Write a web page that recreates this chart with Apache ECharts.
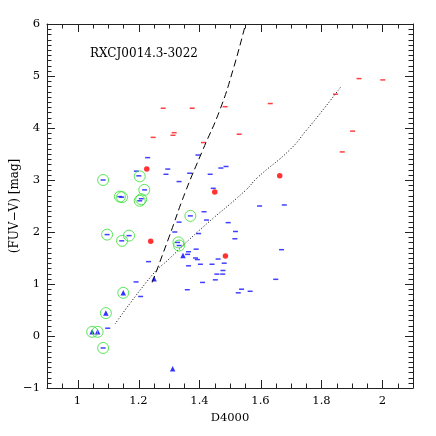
<!DOCTYPE html>
<html>
<head>
<meta charset="utf-8">
<script src="https://cdn.jsdelivr.net/npm/echarts@6/dist/echarts.min.js"></script>
<style>html,body{margin:0;padding:0;background:#fff}#c{width:436px;height:436px}</style>
</head>
<body>
<div id="c"></div>
<script>
// ---- data (D4000, FUV-V) ----
const blueDashes = [
  [1.084,3.00],[1.193,3.17],[1.201,3.08],[1.220,2.81],[1.139,2.68],[1.145,2.67],
  [1.209,2.64],[1.204,2.60],[1.370,2.31],[1.097,1.95],[1.169,1.93],[1.145,1.83],
  [1.328,1.80],[1.333,1.74],[1.084,-0.23],
  [1.230,3.43],[1.395,3.48],[1.296,3.21],[1.290,3.11],[1.368,3.13],[1.435,3.11],
  [1.470,3.23],[1.487,3.26],[1.333,2.97],[1.445,2.84],[1.597,2.50],[1.678,2.52],
  [1.415,2.39],[1.423,2.23],[1.333,2.19],[1.494,2.18],[1.319,2.00],[1.397,1.97],
  [1.518,2.01],[1.516,1.87],[1.669,1.66],[1.389,1.67],[1.364,1.62],[1.361,1.57],
  [1.387,1.50],[1.393,1.47],[1.233,1.43],[1.403,1.38],[1.441,1.38],[1.364,1.35],
  [1.461,1.48],[1.481,1.40],[1.477,1.26],[1.457,1.19],[1.476,1.19],[1.452,1.08],
  [1.192,1.04],[1.410,1.03],[1.650,1.09],[1.360,0.89],[1.538,0.90],[1.566,0.86],
  [1.527,0.83],[1.207,0.76],[1.099,0.15]
];
const redDashes = [
  [1.281,4.38],[1.376,4.38],[1.484,4.41],[1.248,3.82],[1.317,3.91],[1.313,3.86],
  [1.413,3.72],[1.530,3.88],[1.632,4.47],[1.846,4.65],[1.923,4.95],[2.001,4.925],
  [1.902,3.94],[1.868,3.54]
];
const redDots = [[1.227,3.21],[1.450,2.77],[1.663,3.08],[1.240,1.82],[1.485,1.54]];
const blueTriangles = [[1.346,1.55],[1.251,1.10],[1.150,0.83],[1.093,0.44],[1.048,0.08],[1.066,0.08],[1.312,-0.63]];
const greenRings = [
  [1.084,3.00],[1.204,3.07],[1.219,2.81],[1.139,2.68],[1.146,2.67],[1.209,2.63],
  [1.204,2.60],[1.370,2.31],[1.097,1.95],[1.169,1.93],[1.146,1.83],[1.331,1.80],
  [1.333,1.74],[1.150,0.83],[1.093,0.44],[1.048,0.08],[1.066,0.08],[1.084,-0.23]
];
const dashedModel = [[1.245,1.03],[1.300,1.90],[1.353,2.76],[1.411,3.58],[1.467,4.35],[1.510,5.12],[1.551,6.00]];
const dottedModel = [[1.123,0.23],[1.246,1.18],[1.300,1.48],[1.401,2.04],[1.551,2.80],[1.589,3.04],[1.696,3.58],[1.751,3.96],[1.805,4.35],[1.862,4.78]];
// ---- tick values ----
const xMajorTicks = [1,1.2,1.4,1.6,1.8,2];
const xMinorTicks = [0.95,1.05,1.1,1.15,1.25,1.3,1.35,1.45,1.5,1.55,1.65,1.7,1.75,1.85,1.9,1.95,2.05];
const yMajorTicks = [-1,0,1,2,3,4,5,6];
const yMinorTicks = [
  -0.9,-0.8,-0.7,-0.6,-0.5,-0.4,-0.3,-0.2,-0.1,
  0.1,0.2,0.3,0.4,0.5,0.6,0.7,0.8,0.9,
  1.1,1.2,1.3,1.4,1.5,1.6,1.7,1.8,1.9,
  2.1,2.2,2.3,2.4,2.5,2.6,2.7,2.8,2.9,
  3.1,3.2,3.3,3.4,3.5,3.6,3.7,3.8,3.9,
  4.1,4.2,4.3,4.4,4.5,4.6,4.7,4.8,4.9,
  5.1,5.2,5.3,5.4,5.5,5.6,5.7,5.8,5.9
];
const titleText = 'RXCJ0014.3-3022';

const FONT = 'DejaVu Serif';
const AX = '#222';
const X_MIN = 0.9, X_MAX = 2.1, Y_MIN = -1, Y_MAX = 6;

// tick records for the frame-tick layer: [value, kind] kind 0 x-major,1 x-minor,2 y-major,3 y-minor
const tickRecords = [];
xMajorTicks.forEach(v => tickRecords.push([v, 0]));
xMinorTicks.forEach(v => tickRecords.push([v, 1]));
yMajorTicks.forEach(v => tickRecords.push([v, 2]));
yMinorTicks.forEach(v => tickRecords.push([v, 3]));

function xAx(pos, labels) {
  return {
    type:'value', position:pos, min:X_MIN, max:X_MAX,
    axisLine:{show:true, onZero:false, lineStyle:{color:AX,width:1}},
    splitLine:{show:false},
    axisTick:{show:false},
    axisLabel:{show:labels, customValues:xMajorTicks, margin:7, color:'#000', fontFamily:FONT, fontSize:11.5,
      formatter:v=>String(+(+v).toFixed(1))},
    name: labels ? 'D4000' : '', nameLocation:'middle', nameGap:20,
    nameTextStyle:{color:'#000', fontFamily:FONT, fontSize:11.5}
  };
}
function yAx(pos, labels) {
  return {
    type:'value', position:pos, min:Y_MIN, max:Y_MAX, interval:1,
    axisLine:{show:true, onZero:false, lineStyle:{color:AX,width:1}},
    splitLine:{show:false},
    axisTick:{show:false},
    minorTick:{show:false},
    axisLabel:{show:labels, margin:7, color:'#000', fontFamily:FONT, fontSize:11.5,
      formatter:v=> v<0 ? '\u2212'+Math.abs(v) : String(v)},
    name: labels ? '(FUV\u2212V) [mag]' : '', nameLocation:'middle', nameGap:26, nameMoveOverlap:false,
    nameTextStyle:{color:'#000', fontFamily:FONT, fontSize:12}
  };
}
function seg(x1,y1,x2,y2){
  return {type:'line', shape:{x1:x1,y1:y1,x2:x2,y2:y2}, style:{stroke:AX, lineWidth:1}};
}
function renderTick(params, api) {
  const v = api.value(0), k = api.value(1);
  if (k === 0 || k === 1) {
    const L = k === 0 ? 8 : 4.5;
    const b = api.coord([v, Y_MIN]), t = api.coord([v, Y_MAX]);
    const x = Math.round(b[0]) + 0.5;
    return {type:'group', children:[seg(x, b[1], x, b[1]-L), seg(x, t[1], x, t[1]+L)]};
  }
  const L = k === 2 ? 8 : 4.5;
  const l = api.coord([X_MIN, v]), r = api.coord([X_MAX, v]);
  const y = Math.round(l[1]) + 0.5;
  return {type:'group', children:[seg(l[0], y, l[0]+L, y), seg(r[0], y, r[0]-L, y)]};
}

const chart = echarts.init(document.getElementById('c'));
chart.setOption({
  animation:false,
  title:{text:titleText, left:85, top:43, textStyle:{fontFamily:FONT, fontSize:12, fontWeight:'normal', color:'#000'}},
  grid:{left:47, right:23, top:24, bottom:48, outerBoundsMode:'none'},
  xAxis:[xAx('bottom',true), xAx('top',false)],
  yAxis:[yAx('left',true), yAx('right',false)],
  series:[
    {type:'line', data:dashedModel, smooth:true, showSymbol:false, silent:true, clip:true,
      lineStyle:{color:'#000', width:1, type:[7,4]}},
    {type:'line', data:dottedModel, smooth:true, showSymbol:false, silent:true, clip:true,
      lineStyle:{color:'#000', width:1, type:[1,2]}},
    {type:'scatter', data:blueDashes, symbol:'rect', symbolSize:[5,1.5], itemStyle:{color:'#1010ff'}},
    {type:'scatter', data:redDashes, symbol:'rect', symbolSize:[5,1.5], itemStyle:{color:'#ff1010'}},
    {type:'scatter', data:redDots, symbol:'circle', symbolSize:5.5, itemStyle:{color:'#ff0000'}},
    {type:'scatter', data:blueTriangles, symbol:'triangle', symbolSize:5.5, itemStyle:{color:'#0000ff'}},
    {type:'scatter', data:greenRings, symbol:'circle', symbolSize:11,
      itemStyle:{color:'rgba(0,0,0,0)', borderColor:'#33e033', borderWidth:1}},
    {type:'custom', name:'frameTicks', coordinateSystem:'cartesian2d', xAxisIndex:0, yAxisIndex:0,
      data:tickRecords, renderItem:renderTick, silent:true, clip:false, z:20,
      encode:{x:0, y:1}}
  ]
});
</script>
</body>
</html>
